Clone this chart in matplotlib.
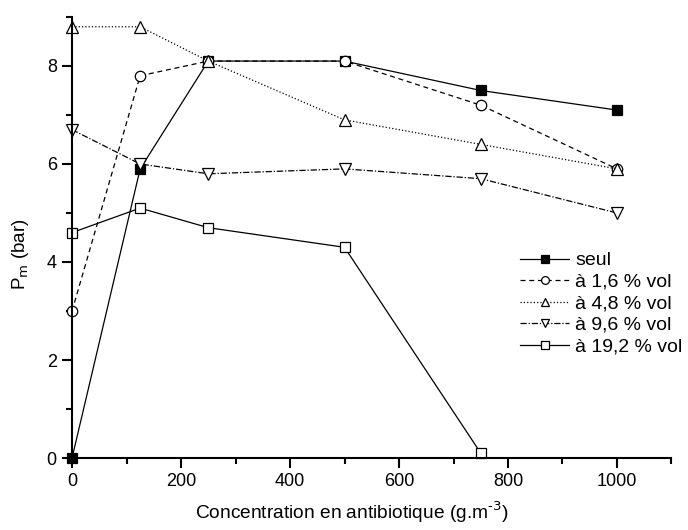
import matplotlib.pyplot as plt
from matplotlib.ticker import MultipleLocator

plt.rcParams['font.family'] = ['Liberation Sans', 'DejaVu Sans']

conc = [0, 125, 250, 500, 750, 1000]
seul = [0.0, 5.9, 8.1, 8.1, 7.5, 7.1]
vol_1_6 = [3.0, 7.8, 8.1, 8.1, 7.2, 5.9]
vol_4_8 = [8.8, 8.8, 8.1, 6.9, 6.4, 5.9]
vol_9_6 = [6.7, 6.0, 5.8, 5.9, 5.7, 5.0]
conc_19_2 = [0, 125, 250, 500, 750]
vol_19_2 = [4.6, 5.1, 4.7, 4.3, 0.1]

fig = plt.figure(figsize=(6.88, 5.30), dpi=100)
ax = fig.add_axes([0.1047, 0.1358, 0.8713, 0.8322])

style = dict(color='black', linewidth=0.9, markeredgewidth=0.9, clip_on=False)
ax.plot(conc, seul, '-', marker='s', markersize=7, markerfacecolor='black',
        label='seul', **style)
ax.plot(conc, vol_1_6, '--', marker='o', markersize=7.5, markerfacecolor='white',
        dashes=(4, 3), label='à 1,6 % vol', **style)
ax.plot(conc, vol_4_8, ':', marker='^', markersize=8.5, markerfacecolor='white',
        label='à 4,8 % vol', **style)
ax.plot(conc, vol_9_6, '-.', marker='v', markersize=8.5, markerfacecolor='white',
        dashes=(5, 1.5, 1, 1.5), label='à 9,6 % vol', **style)
ax.plot(conc_19_2, vol_19_2, '-', marker='s', markersize=7, markerfacecolor='white',
        label='à 19,2 % vol', **style)

ax.set_xlim(0, 1100)
ax.set_ylim(0, 9)
ax.xaxis.set_major_locator(MultipleLocator(200))
ax.xaxis.set_minor_locator(MultipleLocator(100))
ax.yaxis.set_major_locator(MultipleLocator(2))
ax.yaxis.set_minor_locator(MultipleLocator(1))
ax.spines['top'].set_visible(False)
ax.spines['right'].set_visible(False)
for s in ('left', 'bottom'):
    ax.spines[s].set_linewidth(1.5)
ax.tick_params(which='major', direction='out', length=7, width=1.5, labelsize=13, pad=4)
ax.tick_params(which='minor', direction='out', length=4, width=1.5)

ax.set_xlabel('Concentration en antibiotique (g.m$^{\\text{-}3}$)', fontsize=13.8)
ax.xaxis.set_label_coords(0.467, -0.095)
ax.set_ylabel('P$_{\\mathrm{m}}$ (bar)', fontsize=13.5)
ax.yaxis.set_label_coords(-0.068, 0.463)

ax.legend(loc='upper left', bbox_to_anchor=(0.734, 0.485), frameon=False, fontsize=14,
          numpoints=1, markerscale=0.75, handlelength=2.55, handletextpad=0.3,
          labelspacing=0.2, borderaxespad=0)

fig.savefig('out.png', dpi=100)
